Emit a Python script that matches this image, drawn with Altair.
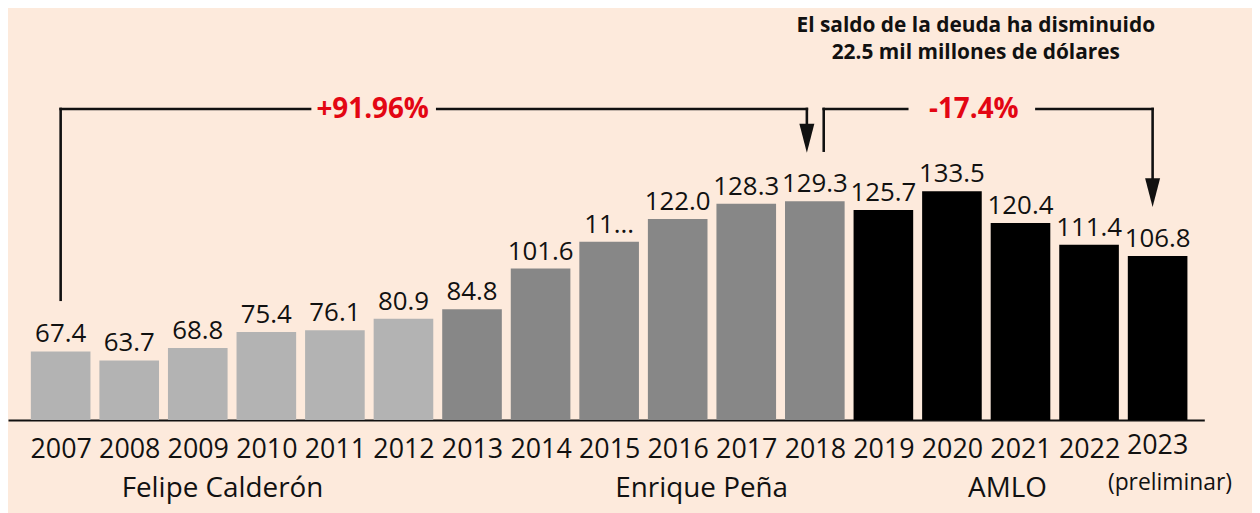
import altair as alt
import pandas as pd

# ---- data ----
years = list(range(2007, 2024))
values = [67.4, 63.7, 68.8, 75.4, 76.1, 80.9, 84.8, 101.6, 112.6, 122.0,
          128.3, 129.3, 125.7, 133.5, 120.4, 111.4, 106.8]
labels = ["67.4", "63.7", "68.8", "75.4", "76.1", "80.9", "84.8", "101.6", "11...",
          "122.0", "128.3", "129.3", "125.7", "133.5", "120.4", "111.4", "106.8"]
groups = ["Felipe Calderón"] * 6 + ["Enrique Peña"] * 6 + ["AMLO"] * 5
group_names = ["Felipe Calderón", "Enrique Peña", "AMLO"]
group_colors = ["#b3b3b3", "#878787", "#000000"]
group_label_x = [2009.36, 2016.35, 2020.81]

FONT = "Open Sans"
BG = "#fdeadc"
RED = "#e30613"
Y0 = 39.12
YMAX = 208.38
X0, X1 = 2006.232, 2023.681

df = pd.DataFrame({"year": years, "value": values, "label": labels, "group": groups})

xs = alt.Scale(domain=[X0, X1], nice=False, zero=False, padding=0)
ys = alt.Scale(domain=[Y0, YMAX], nice=False, zero=False, padding=0)

bars = alt.Chart(df).mark_bar(size=60).encode(
    x=alt.X("year:Q", scale=xs,
            axis=alt.Axis(values=years[:-1], format="d", title=None, grid=False,
                          ticks=False, tickSize=0, labelFontSize=27, labelFont=FONT,
                          labelColor="#111111", labelBaseline="alphabetic",
                          labelPadding=38, domainColor="#111111", domainWidth=2.2,
                          labelFlush=False, labelOverlap=False)),
    y=alt.Y("value:Q", scale=ys, axis=None),
    y2=alt.Y2(datum=Y0),
    color=alt.Color("group:N", scale=alt.Scale(domain=group_names, range=group_colors),
                    legend=None),
)

value_text = alt.Chart(df).mark_text(
    font=FONT, fontSize=26, baseline="alphabetic", dy=-9, color="#111111"
).encode(x=alt.X("year:Q", scale=xs), y=alt.Y("value:Q", scale=ys), text="label:N")

# ---- annotations (data units) ----
seg = pd.DataFrame({
    "x":  [2007.0, 2007.0, 2012.493, 2017.884, 2018.13, 2018.13, 2021.232, 2022.927],
    "x2": [2007.0, 2010.638, 2017.884, 2017.884, 2018.13, 2019.348, 2022.927, 2022.927],
    "y":  [88.7, 167.4, 167.4, 167.4, 150.2, 167.4, 167.4, 167.4],
    "y2": [167.4, 167.4, 167.4, 155.0, 167.4, 167.4, 167.4, 133.0],
})
rules = alt.Chart(seg).mark_rule(color="#111111", strokeWidth=2.6, strokeCap="square").encode(
    x=alt.X("x:Q", scale=xs), x2="x2:Q", y=alt.Y("y:Q", scale=ys), y2="y2:Q")

heads = pd.DataFrame({"x": [2017.884, 2022.927], "y": [149.37, 126.95]})
arrowheads = alt.Chart(heads).mark_point(
    shape="M-0.52,-2 L0.52,-2 L0,0 Z", size=841, filled=True, opacity=1,
    color="#111111", strokeWidth=0
).encode(x=alt.X("x:Q", scale=xs), y=alt.Y("y:Q", scale=ys))

pct = pd.DataFrame({"x": [2011.551, 2020.319], "y": [163.7, 163.7],
                    "t": ["+91.96%", "-17.4%"]})
pct_text = alt.Chart(pct).mark_text(
    font=FONT, fontSize=28, fontWeight="bold", color=RED, baseline="alphabetic"
).encode(x=alt.X("x:Q", scale=xs), y=alt.Y("y:Q", scale=ys), text="t:N")

title = pd.DataFrame({"x": [2020.348, 2020.348], "y": [198.96, 187.89],
                      "t": ["El saldo de la deuda ha disminuido",
                            "22.5 mil millones de dólares"]})
title_text = alt.Chart(title).mark_text(
    font=FONT, fontSize=21, fontWeight="bold", color="#111111", baseline="alphabetic"
).encode(x=alt.X("x:Q", scale=xs), y=alt.Y("y:Q", scale=ys), text="t:N")

gl = pd.DataFrame({"x": group_label_x, "t": group_names})
group_text = alt.Chart(gl).mark_text(
    font=FONT, fontSize=28, color="#111111", baseline="alphabetic"
).encode(x=alt.X("x:Q", scale=xs), y=alt.value(491), text="t:N")

last = pd.DataFrame({"x": [2023.0, 2023.18], "yp": [447, 483],
                     "t": ["2023", "(preliminar)"], "fs": [27, 23]})
last_text = alt.Chart(last).mark_text(
    font=FONT, color="#111111", baseline="alphabetic"
).encode(x=alt.X("x:Q", scale=xs), y=alt.Y("yp:Q", scale=None), text="t:N",
         size=alt.Size("fs:Q", scale=None, legend=None))

chart = alt.layer(bars, value_text, rules, arrowheads, pct_text, title_text,
                  group_text, last_text).properties(
    width=1204, height=413,
    autosize=alt.AutoSizeParams(type="none"),
    padding={"left": 0, "top": 0, "right": 48, "bottom": 92},
    background=BG,
).configure_view(stroke=None)

chart.save("out.html", embed_options={"renderer": "svg", "actions": False})
